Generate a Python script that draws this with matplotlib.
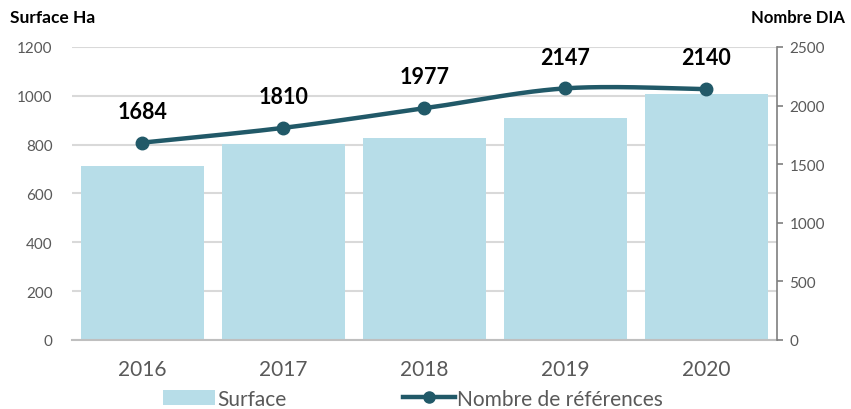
import matplotlib
matplotlib.use("Agg")
import matplotlib.pyplot as plt
import numpy as np
from matplotlib.lines import Line2D
from matplotlib.patches import Patch

years = ["2016", "2017", "2018", "2019", "2020"]
surface = [712, 803, 827, 909, 1007]
references = [1684, 1810, 1977, 2147, 2140]
left_ticks = [0, 200, 400, 600, 800, 1000, 1200]
right_ticks = [0, 500, 1000, 1500, 2000, 2500]

bar_color = "#B7DDE8"
line_color = "#215968"
tick_color = "#595959"
grid_color = "#D9D9D9"

plt.rcParams['font.family'] = ['Lato', 'DejaVu Sans']

fig = plt.figure(figsize=(8.51, 4.10), dpi=100)
ax = fig.add_axes([0.0846, 0.1683, 0.8284, 0.7147])
x = np.arange(len(years))

ax.bar(x, surface, width=0.87, color=bar_color, zorder=2)
ax.set_ylim(0, 1200)
ax.set_xlim(-0.5, len(years) - 0.5)
ax.set_yticks(left_ticks)
ax.set_yticklabels([str(t) for t in left_ticks], color=tick_color, fontsize=11)
ax.set_xticks(x)
ax.set_xticklabels(years, color=tick_color, fontsize=15)
ax.tick_params(axis='y', length=0, pad=14)
ax.tick_params(axis='x', length=0, pad=14)
ax.grid(axis='y', color=grid_color, linewidth=1.5, zorder=0)
for s in ['top', 'right', 'left']:
    ax.spines[s].set_visible(False)
ax.spines['bottom'].set_color('#BFBFBF')
ax.spines['bottom'].set_linewidth(1.5)

ax2 = ax.twinx()
ax2.set_ylim(0, 2500)
ax2.set_yticks(right_ticks)
ax2.set_yticklabels([str(t) for t in right_ticks], color=tick_color, fontsize=11)
ax2.tick_params(axis='y', length=4, color='#7F7F7F', width=1.2, direction='out', pad=5)
for s in ['top', 'left', 'bottom']:
    ax2.spines[s].set_visible(False)
ax2.spines['right'].set_color('#7F7F7F')
ax2.spines['right'].set_linewidth(1.2)

# Smoothed line (Catmull-Rom style Bezier like spreadsheet "smooth line")
px = np.array(x, dtype=float)
py = np.array(references, dtype=float)
sx, sy = [], []
n = len(px)
for i in range(n - 1):
    p0 = (px[max(i - 1, 0)], py[max(i - 1, 0)])
    p1 = (px[i], py[i])
    p2 = (px[i + 1], py[i + 1])
    p3 = (px[min(i + 2, n - 1)], py[min(i + 2, n - 1)])
    c1 = (p1[0] + (p2[0] - p0[0]) / 6, p1[1] + (p2[1] - p0[1]) / 6)
    c2 = (p2[0] - (p3[0] - p1[0]) / 6, p2[1] - (p3[1] - p1[1]) / 6)
    t = np.linspace(0, 1, 40)
    bx = (1 - t) ** 3 * p1[0] + 3 * (1 - t) ** 2 * t * c1[0] + 3 * (1 - t) * t ** 2 * c2[0] + t ** 3 * p2[0]
    by = (1 - t) ** 3 * p1[1] + 3 * (1 - t) ** 2 * t * c1[1] + 3 * (1 - t) * t ** 2 * c2[1] + t ** 3 * p2[1]
    sx.extend(bx)
    sy.extend(by)
ax2.plot(sx, sy, color=line_color, linewidth=3.2, solid_capstyle='round', zorder=3)
ax2.plot(px, py, 'o', color=line_color, markersize=9, zorder=4)
for xi, v in zip(px, references):
    ax2.annotate(str(v), (xi, v), xytext=(0, 15), textcoords='offset points',
                 ha='center', va='bottom', fontsize=15.5, fontweight='bold', color='black')

fig.text(0.012, 0.955, "Surface Ha", fontsize=12.5, fontweight='bold', ha='left', va='center')
fig.text(0.993, 0.955, "Nombre DIA", fontsize=12, fontweight='bold', ha='right', va='center')

handles = [Patch(facecolor=bar_color, edgecolor='none'),
           Line2D([0], [0], color=line_color, linewidth=3.2, marker='o', markersize=8)]
fig.legend(handles, ["Surface", "Nombre de références"], loc='lower center',
           bbox_to_anchor=(0.485, -0.045), ncol=2, frameon=False, fontsize=15,
           handlelength=2.5, handletextpad=0.1, columnspacing=5.6,
           labelcolor=tick_color)

fig.savefig("out.png", dpi=100)
